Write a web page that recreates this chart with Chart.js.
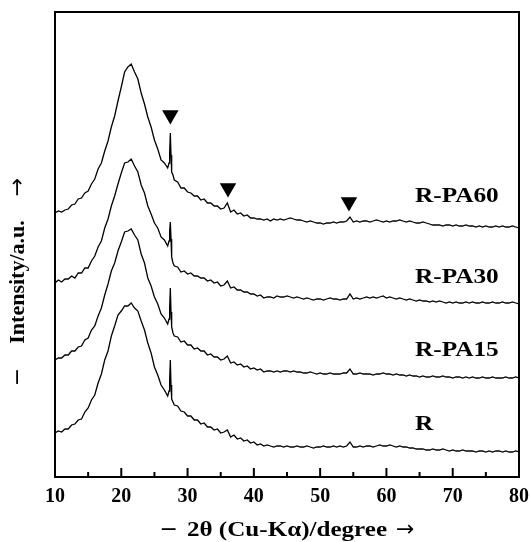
<!DOCTYPE html>
<html lang="en">
<head>
<meta charset="UTF-8">
<title>XRD patterns - R, R-PA15, R-PA30, R-PA60</title>
<script src="https://cdn.jsdelivr.net/npm/chart.js"></script>
<style>
  body { margin: 0; background: #fff; }
  #xrd { display: block; }
</style>
</head>
<body>
<canvas id="xrd" width="530" height="542"></canvas>
<script>
// 2θ sample points (degree), finer around the sharp line at ~27.4
const angles = [
  10, 10.5, 11, 11.5, 12, 12.5, 13, 13.5, 14, 14.5,
  15, 15.5, 16, 16.5, 17, 17.5, 18, 18.5, 19, 19.5,
  20, 20.5, 21, 21.5, 22, 22.5, 23, 23.5, 24, 24.5,
  25, 25.5, 26, 26.5, 27, 27.2, 27.3, 27.4, 27.5, 27.6,
  27.8, 28, 28.5, 29, 29.5, 30, 30.5, 31, 31.5, 32,
  32.5, 33, 33.5, 34, 34.5, 35, 35.5, 36, 36.5, 37,
  37.5, 38, 38.5, 39, 39.5, 40, 40.5, 41, 41.5, 42,
  42.5, 43, 43.5, 44, 44.5, 45, 45.5, 46, 46.5, 47,
  47.5, 48, 48.5, 49, 49.5, 50, 50.5, 51, 51.5, 52,
  52.5, 53, 53.5, 54, 54.5, 55, 55.5, 56, 56.5, 57,
  57.5, 58, 58.5, 59, 59.5, 60, 60.5, 61, 61.5, 62,
  62.5, 63, 63.5, 64, 64.5, 65, 65.5, 66, 66.5, 67,
  67.5, 68, 68.5, 69, 69.5, 70, 70.5, 71, 71.5, 72,
  72.5, 73, 73.5, 74, 74.5, 75, 75.5, 76, 76.5, 77,
  77.5, 78, 78.5, 79, 79.5, 80
];

// intensities (a.u., curves already offset as in the figure)
const rpa60 = [
  264, 266, 265, 267, 268, 272, 273, 278, 279, 284,
  286, 293, 298, 308, 314, 326, 336, 350, 361, 376,
  390, 405, 410, 413, 405, 398, 384, 373, 360, 350,
  337, 328, 317, 314, 309, 314, 325, 344, 322, 305,
  302, 297, 295, 289, 289, 285, 284, 281, 281, 277,
  278, 274, 274, 271, 271, 268, 269, 274, 265, 267,
  263, 264, 261, 262, 259, 259, 258, 258, 257, 258,
  256, 258, 257, 258, 257, 258, 259, 258, 257, 257,
  256, 255, 256, 255, 254, 254, 253, 254, 254, 255,
  254, 255, 255, 256, 260, 255, 256, 255, 256, 256,
  255, 256, 257, 256, 255, 256, 255, 256, 256, 257,
  256, 255, 256, 255, 254, 254, 255, 254, 253, 252,
  252, 252, 251, 252, 252, 251, 252, 251, 251, 252,
  251, 251, 250, 251, 250, 251, 250, 250, 251, 250,
  251, 250, 250, 251, 250, 249
];

const rpa30 = [
  194, 197, 195, 198, 198, 201, 199, 204, 204, 209,
  209, 216, 221, 230, 236, 249, 258, 271, 281, 293,
  304, 314, 315, 318, 311, 305, 292, 284, 271, 263,
  254, 249, 240, 237, 231, 236, 246, 255, 238, 220,
  214, 211, 210, 205, 206, 203, 204, 201, 201, 199,
  199, 196, 197, 194, 195, 191, 192, 196, 189, 190,
  187, 187, 185, 185, 183, 183, 181, 182, 179, 180,
  180, 179, 181, 180, 180, 181, 180, 179, 180, 179,
  178, 179, 178, 177, 178, 178, 177, 178, 179, 178,
  178, 177, 178, 178, 183, 178, 179, 178, 179, 180,
  179, 180, 179, 180, 181, 179, 180, 179, 178, 179,
  178, 177, 178, 177, 176, 177, 176, 176, 175, 176,
  175, 176, 175, 174, 175, 174, 175, 174, 174, 175,
  174, 175, 174, 174, 175, 174, 174, 175, 174, 174,
  175, 174, 174, 175, 174, 173
];

const rpa15 = [
  117, 119, 119, 122, 122, 126, 126, 130, 131, 137,
  139, 147, 151, 161, 169, 182, 193, 206, 214, 226,
  235, 245, 246, 248, 242, 237, 223, 214, 199, 191,
  180, 173, 163, 159, 153, 158, 170, 189, 165, 150,
  144, 141, 140, 135, 136, 132, 132, 128, 129, 126,
  126, 122, 123, 120, 120, 117, 118, 121, 114, 115,
  112, 113, 110, 111, 108, 109, 107, 108, 105, 106,
  106, 105, 106, 105, 106, 106, 105, 106, 105, 105,
  104, 104, 105, 104, 103, 104, 103, 103, 104, 103,
  103, 103, 104, 104, 108, 103, 103, 104, 103, 103,
  103, 102, 103, 103, 104, 103, 103, 102, 103, 102,
  102, 101, 102, 101, 101, 100, 101, 100, 100, 101,
  100, 100, 101, 100, 100, 99, 100, 100, 99, 100,
  99, 100, 99, 99, 100, 99, 99, 100, 99, 99,
  99, 100, 99, 99, 100, 99
];

const rBase = [
  44, 46, 45, 48, 48, 52, 53, 57, 58, 65,
  69, 77, 82, 94, 103, 117, 126, 141, 151, 162,
  166, 171, 171, 174, 169, 166, 156, 147, 134, 124,
  110, 102, 92, 87, 81, 86, 98, 117, 92, 78,
  75, 72, 71, 66, 65, 61, 61, 57, 57, 53,
  54, 50, 50, 47, 48, 44, 45, 47, 40, 42,
  38, 39, 36, 37, 34, 35, 32, 33, 31, 32,
  31, 30, 31, 31, 30, 31, 30, 30, 31, 30,
  30, 31, 30, 29, 30, 30, 31, 30, 30, 31,
  30, 31, 30, 31, 35, 30, 30, 31, 30, 31,
  31, 30, 31, 32, 31, 31, 32, 31, 30, 31,
  30, 30, 29, 29, 28, 28, 28, 27, 27, 28,
  27, 27, 28, 27, 26, 27, 26, 26, 27, 26,
  26, 26, 25, 26, 26, 25, 26, 25, 26, 26,
  25, 26, 25, 25, 26, 25
];

// ▼ markers of the crystalline reflections on R-PA60
const markerAngles = [27.4, 36.1, 54.35];
const markerHeights = [362, 289, 275];

const sampleNames = ['R-PA60', 'R-PA30', 'R-PA15', 'R'];
const labelHeights = [281, 200, 127, 53];
const labelAngle = 64.3;

const serif = "'Liberation Serif', 'Times New Roman', serif";
const symbolFont = "'DejaVu Sans', sans-serif";

function toPoints(xs, ys) {
    return xs.map((a, i) => ({ x: a, y: ys[i] }));
}

function curve(vals) {
    return {
        data: toPoints(angles, vals),
        borderColor: '#000',
        borderWidth: 1.3,
        pointRadius: 0,
        tension: 0
    };
}

// "− text →" : thin minus and long arrow, bold serif text in between
function arrowTitle(ctx, text, size, stretch, gap) {
    const sym = size + 'px ' + symbolFont;
    const txt = 'bold ' + size + 'px ' + serif;
    ctx.font = sym;
    const minusW = ctx.measureText('\u2212').width;
    const arrowW = ctx.measureText('\u2192').width;
    ctx.font = txt;
    const textW = ctx.measureText(text).width * stretch;
    const total = minusW + gap + textW + gap + arrowW;
    const cx = -total / 2;
    ctx.textAlign = 'left';
    ctx.textBaseline = 'middle';
    ctx.font = sym;
    ctx.fillText('\u2212', cx, 0);
    ctx.fillText('\u2192', cx + minusW + gap + textW + gap, 0);
    ctx.save();
    ctx.scale(stretch, 1);
    ctx.font = txt;
    ctx.fillText(text, (cx + minusW + gap) / stretch, 0);
    ctx.restore();
}

// frame, inward ticks, sample names and axis titles
const decorPlugin = {
    id: 'decor',
    afterDraw(chart) {
        const { ctx, chartArea: a, scales: { x, y } } = chart;
        ctx.save();
        ctx.strokeStyle = '#000';
        ctx.lineWidth = 2;
        ctx.strokeRect(a.left, a.top, a.right - a.left, a.bottom - a.top);

        for (let v = 10; v <= 80; v += 5) {
            const px = x.getPixelForValue(v);
            const len = v % 10 === 0 ? 9 : 5;
            ctx.beginPath();
            ctx.moveTo(px, a.bottom);
            ctx.lineTo(px, a.bottom - len);
            ctx.stroke();
        }

        ctx.fillStyle = '#000';
        ctx.font = 'bold 22px ' + serif;
        ctx.textBaseline = 'middle';
        ctx.textAlign = 'left';
        sampleNames.forEach((name, i) => {
            ctx.save();
            ctx.translate(x.getPixelForValue(labelAngle), y.getPixelForValue(labelHeights[i]));
            ctx.scale(1.15, 1);
            ctx.fillText(name, 0, 0);
            ctx.restore();
        });

        // x title
        ctx.save();
        ctx.translate((a.left + a.right) / 2, 530);
        arrowTitle(ctx, '2\u03b8 (Cu-K\u03b1)/degree', 22, 1.14, 9);
        ctx.restore();

        // y title
        ctx.save();
        ctx.translate(18, 282);
        ctx.rotate(-Math.PI / 2);
        arrowTitle(ctx, 'Intensity/a.u.', 22, 1, 24);
        ctx.restore();

        ctx.restore();
    }
};

new Chart(document.getElementById('xrd'), {
    type: 'line',
    data: {
        datasets: [
            curve(rpa60),
            curve(rpa30),
            curve(rpa15),
            curve(rBase),
            {
                data: toPoints(markerAngles, markerHeights),
                showLine: false,
                pointStyle: 'triangle',
                pointRotation: 180,
                pointRadius: 9.5,
                pointBackgroundColor: '#000',
                pointBorderColor: '#000',
                pointBorderWidth: 0
            }
        ]
    },
    options: {
        responsive: false,
        animation: false,
        devicePixelRatio: 1,
        layout: { padding: { top: 12, right: 11, left: 0, bottom: 0 } },
        plugins: {
            legend: { display: false },
            tooltip: { enabled: false }
        },
        scales: {
            x: {
                type: 'linear',
                min: 10,
                max: 80,
                grid: { display: false, drawTicks: false },
                border: { display: false },
                ticks: {
                    stepSize: 10,
                    padding: 8,
                    color: '#000',
                    font: { family: serif, size: 20, weight: 'bold' }
                },
                afterFit(scale) {
                    scale.height = 65;
                    scale.paddingLeft = 0;
                    scale.paddingRight = 0;
                }
            },
            y: {
                min: 0,
                max: 465,
                grid: { display: false, drawTicks: false },
                border: { display: false },
                ticks: { display: false },
                afterFit(scale) { scale.width = 55; }
            }
        }
    },
    plugins: [decorPlugin]
});
</script>
</body>
</html>
